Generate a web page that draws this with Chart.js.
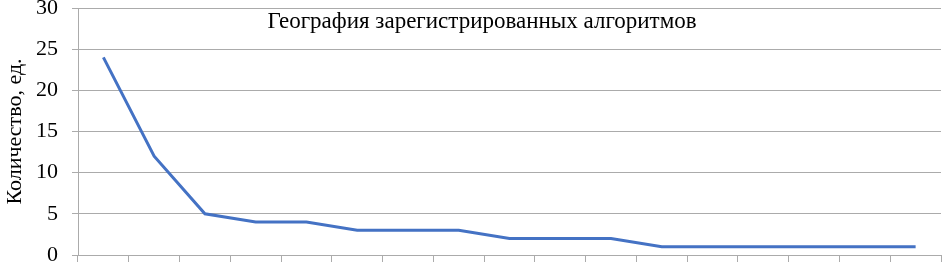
<!DOCTYPE html>
<html>
<head>
<meta charset="utf-8">
<script src="https://cdn.jsdelivr.net/npm/chart.js@4/dist/chart.umd.min.js"></script>
<style>
  html, body { margin: 0; padding: 0; background: #fff; }
  #wrap { width: 942px; height: 263px; position: relative; }
</style>
</head>
<body>
<div id="wrap"><canvas id="chart"></canvas></div>
<script>
const chartTitle = 'География зарегистрированных алгоритмов';
const axisTitle = 'Количество, ед.';
const categories = ['', '', '', '', '', '', '', '', '', '', '', '', '', '', '', '', ''];
const counts = [24, 12, 5, 4, 4, 3, 3, 3, 2, 2, 2, 1, 1, 1, 1, 1, 1];
const yTicks = [0, 5, 10, 15, 20, 25, 30];

const serif = '"Liberation Serif", "Times New Roman", serif';
const gridColor = '#ababab';
Chart.defaults.font.family = serif;
Chart.defaults.color = '#000';

// title sits inside the plot area, so draw it by hand
const innerTitle = {
  id: 'innerTitle',
  afterDraw(chart) {
    const { ctx } = chart;
    ctx.save();
    ctx.font = `23px ${serif}`;
    ctx.fillStyle = '#000';
    ctx.textAlign = 'center';
    ctx.textBaseline = 'middle';
    ctx.fillText(chartTitle, 482, 22);
    ctx.restore();
  },
};

new Chart(document.getElementById('chart'), {
  type: 'line',
  data: {
    labels: categories,
    datasets: [{
      data: counts,
      borderColor: '#4472c4',
      borderWidth: 3,
      pointRadius: 0,
      tension: 0,
      fill: false,
    }],
  },
  options: {
    responsive: true,
    maintainAspectRatio: false,
    animation: false,
    layout: { padding: { top: 8, right: 1, left: 0, bottom: 0 } },
    plugins: { legend: { display: false }, tooltip: { enabled: false }, title: { display: false } },
    scales: {
      x: {
        offset: true,
        grid: { offset: true, drawOnChartArea: false, color: gridColor, tickLength: 7, tickColor: gridColor },
        border: { color: gridColor },
        ticks: { display: true, font: { size: 1 } },
        afterFit(scale) {
          scale.height = 8;
          scale.paddingLeft = 0;
          scale.paddingRight = 0;
        },
      },
      y: {
        min: 0,
        max: 30,
        afterBuildTicks(scale) { scale.ticks = yTicks.map(v => ({ value: v })); },
        grid: { color: gridColor, tickLength: 6, tickColor: gridColor },
        border: { color: gridColor },
        ticks: { padding: 14, color: '#000', font: { family: serif, size: 22 } },
        title: { display: true, text: axisTitle, color: '#000', font: { family: serif, size: 22 }, padding: { top: 2, bottom: 0 } },
        afterFit(scale) {
          scale.width = 78;
          scale.paddingTop = 0;
          scale.paddingBottom = 0;
        },
      },
    },
  },
  plugins: [innerTitle],
});
</script>
</body>
</html>
